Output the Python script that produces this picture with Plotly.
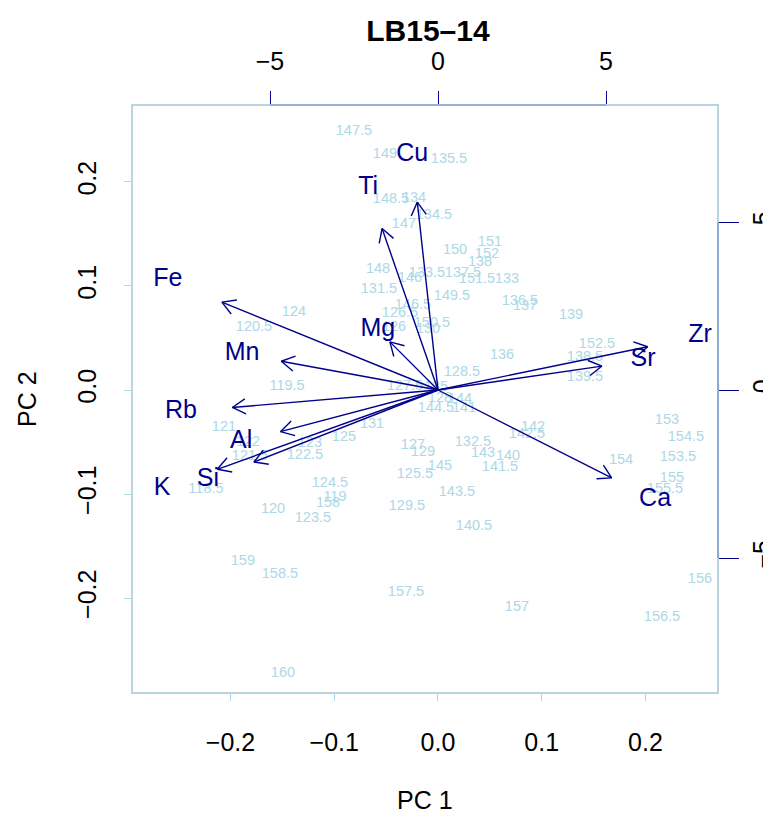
import math
import plotly.graph_objects as go

# ---------------- data ----------------
sample_labels = ["147.5", "149", "135.5", "148.5", "134", "134.5", "147", "150", "151", "152",
                 "138", "137.5", "133.5", "151.5", "133", "148", "146", "131.5", "149.5", "146.5",
                 "126.5", "126", "150.5", "130", "136.5", "137", "139", "152.5", "138.5", "139.5",
                 "136", "128.5", "127.5", "135", "128", "144", "144.5", "141", "142", "142.5",
                 "132.5", "143", "140", "141.5", "127", "129", "145", "125.5", "143.5", "129.5",
                 "140.5", "157.5", "157", "153", "154.5", "153.5", "154", "155", "155.5", "156",
                 "156.5", "124", "120.5", "119.5", "121", "122", "121.5", "123", "122.5", "125",
                 "131", "118.5", "124.5", "119", "158", "120", "123.5", "159", "158.5", "160"]
pc1 = [-0.0810, -0.0511, 0.0106, -0.0453, -0.0231, -0.0039, -0.0328, 0.0164, 0.0501, 0.0472,
       0.0405, 0.0241, -0.0106, 0.0376, 0.0665, -0.0578, -0.0270, -0.0569, 0.0135, -0.0241,
       -0.0366, -0.0424, -0.0058, -0.0096, 0.0790, 0.0839, 0.1282, 0.1533, 0.1417, 0.1417,
       0.0617, 0.0231, -0.0318, -0.0019, 0.0019, 0.0212, -0.0019, 0.0251, 0.0916, 0.0858,
       0.0337, 0.0434, 0.0675, 0.0598, -0.0241, -0.0145, 0.0019, -0.0222, 0.0183, -0.0299,
       0.0347, -0.0308, 0.0761, 0.2207, 0.2390, 0.2313, 0.1764, 0.2255, 0.2188, 0.2525,
       0.2159, -0.1388, -0.1773, -0.1455, -0.2063, -0.1831, -0.1812, -0.1234, -0.1282, -0.0906,
       -0.0636, -0.2236, -0.1041, -0.0993, -0.1060, -0.1590, -0.1205, -0.1880, -0.1523, -0.1494]
pc2 = [0.2490, 0.2269, 0.2221, 0.1837, 0.1846, 0.1683, 0.1596, 0.1346, 0.1423, 0.1308,
       0.1231, 0.1125, 0.1125, 0.1067, 0.1067, 0.1163, 0.1077, 0.0971, 0.0904, 0.0817,
       0.0740, 0.0606, 0.0644, 0.0587, 0.0856, 0.0808, 0.0721, 0.0442, 0.0317, 0.0125,
       0.0337, 0.0173, 0.0038, 0.0029, -0.0077, -0.0087, -0.0173, -0.0173, -0.0356, -0.0423,
       -0.0500, -0.0606, -0.0635, -0.0740, -0.0529, -0.0596, -0.0731, -0.0808, -0.0981, -0.1115,
       -0.1308, -0.1942, -0.2087, -0.0288, -0.0452, -0.0644, -0.0673, -0.0846, -0.0952, -0.1817,
       -0.2183, 0.0750, 0.0606, 0.0038, -0.0356, -0.0500, -0.0635, -0.0510, -0.0625, -0.0452,
       -0.0327, -0.0952, -0.0894, -0.1029, -0.1087, -0.1144, -0.1231, -0.1644, -0.1769, -0.2721]

var_names = ["Fe", "Mn", "Rb", "Al", "Si", "K", "Mg", "Ti", "Cu", "Zr", "Sr", "Ca"]
load1 = [-8.04, -5.83, -7.65, -5.86, -6.85, -8.21, -1.79, -2.08, -0.77, 7.80, 6.10, 6.46]
load2 = [3.27, 1.07, -0.65, -1.55, -2.68, -2.95, 1.79, 6.01, 6.99, 1.61, 0.89, -3.27]

x_ticks = [-0.2, -0.1, 0.0, 0.1, 0.2]
y_ticks = [-0.2, -0.1, 0.0, 0.1, 0.2]
top_ticks = [-5, 0, 5]
right_ticks = [-5, 0, 5]

# ---------------- style ----------------
FONT = "Liberation Sans, Arial, Helvetica, sans-serif"
LIGHT = "#ADD8E6"
DARK = "#00008B"
BOX = "#A4C8D6"

x_range = [-0.2949, 0.2699]
y_range = [-0.2913, 0.2740]
x2_range = [-9.107, 8.333]
y2_range = [-9.018, 8.482]

fig = go.Figure()

# sample labels
fig.add_trace(go.Scatter(x=pc1, y=pc2, text=sample_labels, mode="text",
                         textfont=dict(family=FONT, size=14.5, color=LIGHT),
                         hoverinfo="text", showlegend=False, xaxis="x", yaxis="y"))

# arrows (R biplot draws arrows to 0.8 of label position)
ax_, ay_ = [], []
head = 0.45
for lx, ly in zip(load1, load2):
    tx, ty = 0.8 * lx, 0.8 * ly
    th = math.atan2(ty, tx)
    ax_ += [0, tx, None]
    ay_ += [0, ty, None]
    for s in (1, -1):
        a = th + s * math.pi / 6
        ax_ += [tx, tx - head * math.cos(a), None]
        ay_ += [ty, ty - head * math.sin(a), None]
fig.add_trace(go.Scatter(x=ax_, y=ay_, mode="lines", line=dict(color=DARK, width=1.4),
                         hoverinfo="skip", showlegend=False, xaxis="x2", yaxis="y2"))

# variable labels
fig.add_trace(go.Scatter(x=load1, y=load2, text=var_names, mode="text",
                         textfont=dict(family=FONT, size=25, color=DARK),
                         hoverinfo="text", showlegend=False, xaxis="x2", yaxis="y2"))

axis_common = dict(showgrid=False, zeroline=False, showline=False,
                   tickfont=dict(family=FONT, size=25, color="black"))

fig.update_layout(
    width=771, height=816,
    margin=dict(l=124, r=61, t=97, b=131, autoexpand=False),
    paper_bgcolor="white", plot_bgcolor="white",
    showlegend=False,
    title=dict(text="<b>LB15–14</b>", x=0.505, xanchor="center", xref="paper",
               y=1 - 22 / 816, yref="container", yanchor="middle",
               font=dict(family=FONT, size=30, color="black")),
    xaxis=dict(range=x_range, tickvals=x_ticks, ticktext=[f"{v:.1f}".replace("-", "−") for v in x_ticks],
               ticks="outside", ticklen=7, tickcolor=LIGHT, tickwidth=1.3,
               ticklabelstandoff=20, **axis_common),
    yaxis=dict(range=y_range, tickvals=y_ticks, ticktext=[f"{v:.1f}".replace("-", "−") for v in y_ticks],
               ticks="outside", ticklen=7, tickcolor=LIGHT, tickwidth=1.3, tickangle=-90,
               ticklabelstandoff=18, **axis_common),
    xaxis2=dict(range=x2_range, overlaying="x", side="top", anchor="y",
                tickvals=top_ticks, ticktext=[str(v).replace("-", "−") for v in top_ticks],
                ticks="outside", ticklen=13, tickcolor=DARK, tickwidth=1.3,
                ticklabelstandoff=11, **axis_common),
    yaxis2=dict(range=y2_range, overlaying="y", side="right", anchor="x",
                tickvals=right_ticks, ticktext=[str(v).replace("-", "−") for v in right_ticks],
                ticks="outside", ticklen=20, tickcolor=DARK, tickwidth=1.3, tickangle=-90,
                ticklabelstandoff=2, **axis_common),
    shapes=[
        dict(type="rect", xref="paper", yref="paper", x0=0, y0=0, x1=1, y1=1,
             line=dict(color=BOX, width=1.5), layer="above"),
        dict(type="line", xref="x2", yref="paper", x0=top_ticks[0], x1=top_ticks[-1], y0=1, y1=1,
             line=dict(color="#6F8FC4", width=1.2), layer="above"),
        dict(type="line", xref="paper", yref="y2", x0=1, x1=1, y0=right_ticks[0], y1=right_ticks[-1],
             line=dict(color="#6F8FC4", width=1.2), layer="above"),
    ],
    annotations=[
        dict(text="PC 1", xref="paper", yref="paper", x=0.5, y=-(800 - 693) / 588,
             xanchor="center", yanchor="middle", showarrow=False,
             font=dict(family=FONT, size=25, color="black")),
        dict(text="PC 2", xref="paper", yref="paper", x=-(132 - 27) / 586, y=0.5,
             xanchor="center", yanchor="middle", showarrow=False, textangle=-90,
             font=dict(family=FONT, size=25, color="black")),
    ],
)

fig.write_html("out.html")
